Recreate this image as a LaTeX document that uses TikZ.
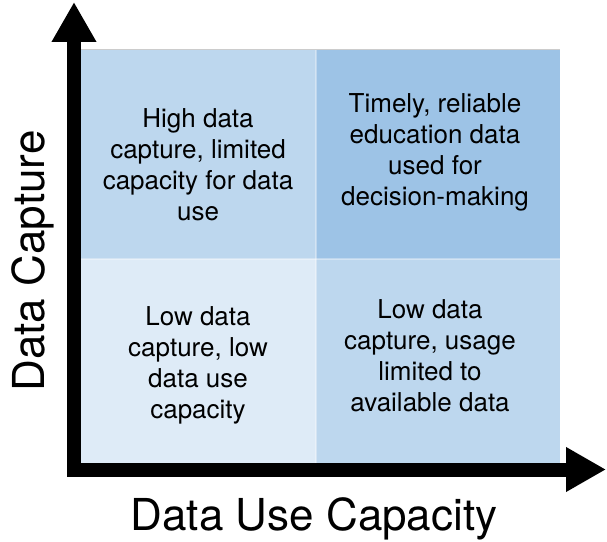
\documentclass[tikz,border=0pt]{standalone}
\usepackage{fontspec}
\setmainfont{TeX Gyre Heros}
\usepackage{tikz}
\usetikzlibrary{arrows.meta}
\definecolor{cellmid}{RGB}{189,215,238}
\definecolor{celldark}{RGB}{157,195,230}
\definecolor{celllight}{RGB}{222,235,247}
\tikzstyle{quad}=[align=center,font=\fontsize{26}{31}\selectfont]
\tikzstyle{axis}=[draw,line width=14pt,-{Triangle[length=40pt,width=42pt]}]
\tikzstyle{axislabel}=[font=\fontsize{44}{50}\selectfont]

\begin{document}
\begin{tikzpicture}[x=1pt,y=1pt]
      \useasboundingbox (0,0) rectangle (607,541);
      % quadrants
      \fill[celllight] (81,78) rectangle (316,282);
      \fill[cellmid] (316,78) rectangle (560,282);
      \fill[cellmid] (81,282) rectangle (316,491);
      \fill[celldark] (316,282) rectangle (560,491);
      \draw[white,opacity=.35,line width=1.5pt] (81,282) -- (560,282);
      \draw[white,opacity=.35,line width=1.5pt] (316,78) -- (316,491);
      \draw[black!20,line width=1pt] (81,491) -- (560,491);
      \node[quad] (hl) at (198,376) {High data\\capture, limited\\capacity for data\\use};
      \node[quad] (hh) at (435,389) {Timely, reliable\\education data\\used for\\decision-making};
      \node[quad] (ll) at (198,176) {Low data\\capture, low\\data use\\capacity};
      \node[quad] (lh) at (430,185) {Low data\\capture, usage\\limited to\\available data};
      % axes
      \coordinate (ybase) at (74,64.5);
      \coordinate (ytip) at (74,539);
      \coordinate (xbase) at (67,71.5);
      \coordinate (xtip) at (606,71.5);
      \draw[axis] (ybase) to (ytip);
      \draw[axis] (xbase) to (xtip);
      \node[axislabel,anchor=base] (xlab) at (314,11) {Data Use Capacity};
      \node[axislabel,anchor=base,rotate=90] (ylab) at (44,280) {Data Capture};
\end{tikzpicture}
\end{document}
